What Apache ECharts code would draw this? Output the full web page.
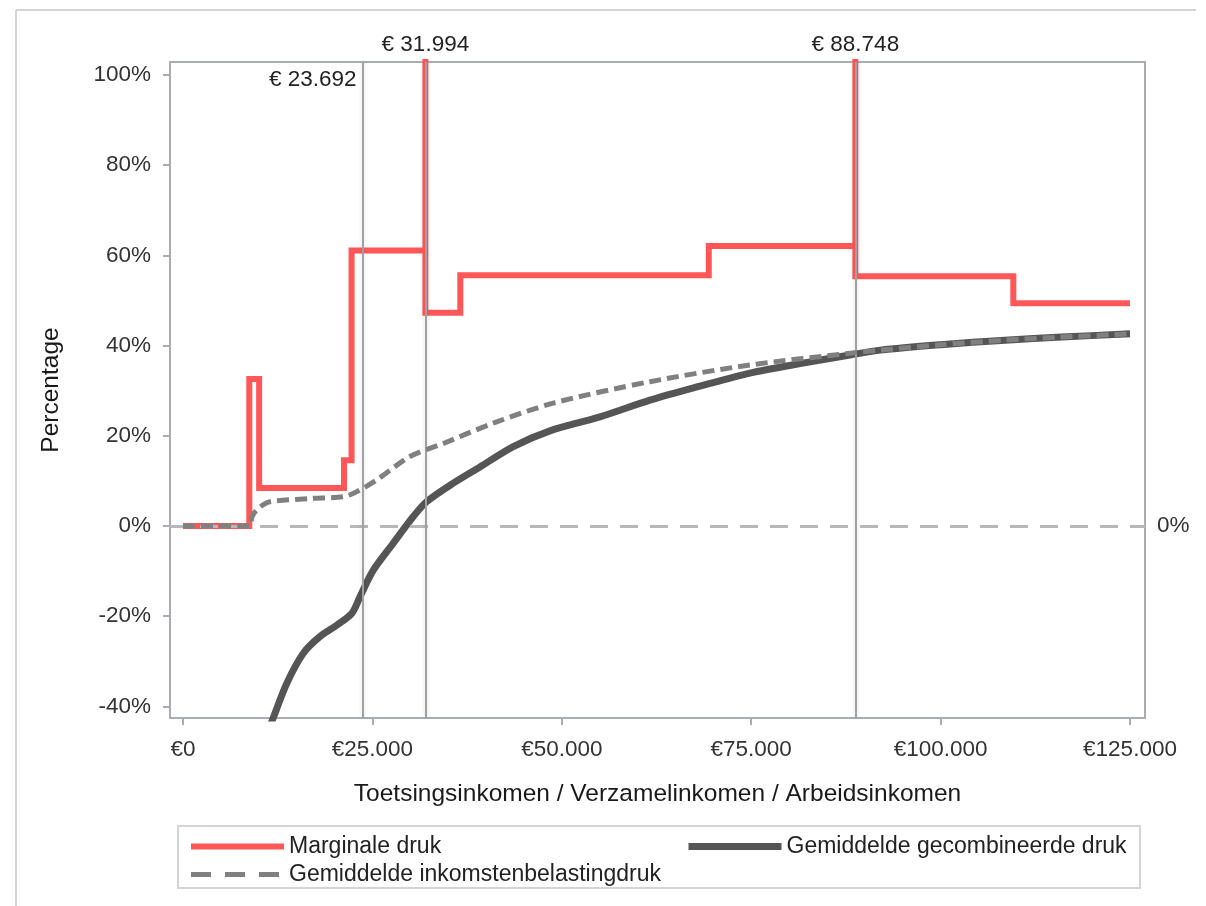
<!DOCTYPE html>
<html>
<head>
<meta charset="utf-8">
<script src="https://cdn.jsdelivr.net/npm/echarts@6/dist/echarts.min.js"></script>
<style>
html,body{margin:0;padding:0;background:#fff;}
#chart{width:1206px;height:906px;}
</style>
</head>
<body>
<div id="chart"></div>
<script>
// ---- data ----
const xTicks = [0, 25000, 50000, 75000, 100000, 125000];
const yTicks = [-40, -20, 0, 20, 40, 60, 80, 100];
const refLineValues = [23692, 31994, 88748];

// Marginale druk (step: value applies from x onward)
const marginalX = [0, 8750, 10050, 21250, 22250, 31994, 31994, 36600, 69400, 88748, 88748, 109600, 125000];
const marginalY = [0, 32.6, 8.4, 14.6, 61.1, 200, 47.3, 55.6, 62.1, 200, 55.4, 49.4, 49.4];

// Gemiddelde gecombineerde druk
const combinedX = [11000, 11920, 13690, 15880, 18080, 20290, 22270, 23360, 25120, 27760, 30400, 32170, 35680, 39200, 43600, 48440, 55040, 61640, 68240, 74840, 81440, 88040, 92050, 100000, 108500, 116000, 125000];
const combinedY = [-46.5, -42.5, -34.9, -28.2, -24.5, -22.0, -19.4, -15.7, -9.8, -3.8, 2.1, 5.4, 9.5, 13.1, 17.6, 21.1, 24.2, 27.9, 31.0, 33.9, 36.0, 37.9, 39.0, 40.2, 41.2, 41.9, 42.6];

// Gemiddelde inkomstenbelastingdruk
const incomeTaxX = [0, 8850, 9100, 9700, 10560, 11480, 16760, 21160, 22920, 25560, 29960, 34360, 40950, 49000, 61640, 74840, 88040, 92050, 100000, 108500, 116000, 125000];
const incomeTaxY = [0, 0, 2.0, 3.5, 4.7, 5.4, 6.1, 6.5, 7.6, 10.2, 15.4, 18.3, 22.8, 27.3, 32.0, 35.7, 38.3, 39.0, 40.2, 41.2, 41.9, 42.6];

const seriesNames = ['Marginale druk', 'Gemiddelde gecombineerde druk', 'Gemiddelde inkomstenbelastingdruk'];
const xAxisTitle = 'Toetsingsinkomen / Verzamelinkomen / Arbeidsinkomen';
const yAxisTitle = 'Percentage';

// ---- helpers ----
const zip = (xs, ys) => xs.map((x, i) => [x, ys[i]]);
const thousands = v => String(Math.round(v)).replace(/\B(?=(\d{3})+(?!\d))/g, '.');
const FONT = '"Liberation Sans", Arial, sans-serif';

const chart = echarts.init(document.getElementById('chart'), null, {renderer: 'canvas'});

const option = {
  animation: false,
  backgroundColor: '#ffffff',
  textStyle: {fontFamily: FONT},
  grid: {
    left: 170, right: 61, top: 62, bottom: 188,
    show: true, borderColor: '#a9adb2', borderWidth: 2, backgroundColor: 'transparent'
  },
  xAxis: {
    type: 'value',
    min: -1716, max: 126980,
    name: xAxisTitle,
    nameLocation: 'middle',
    nameGap: 64,
    nameTextStyle: {fontSize: 24.5, color: '#1a1a1a', fontFamily: FONT},
    splitLine: {show: false},
    axisLine: {show: true, onZero: false, lineStyle: {color: '#a9adb2', width: 2}},
    axisTick: {show: true, length: 7, lineStyle: {color: '#a9adb2', width: 2}, customValues: xTicks},
    axisLabel: {
      customValues: xTicks, fontSize: 22.5, color: '#333', margin: 20, fontFamily: FONT,
      formatter: v => '€' + thousands(v)
    }
  },
  yAxis: {
    type: 'value',
    min: -42.57, max: 102.88,
    name: yAxisTitle,
    nameLocation: 'middle',
    nameGap: 106,
    nameTextStyle: {fontSize: 24.5, color: '#1a1a1a', fontFamily: FONT},
    splitLine: {show: false},
    axisLine: {show: true, onZero: false, lineStyle: {color: '#a9adb2', width: 2}},
    axisTick: {show: true, length: 7, lineStyle: {color: '#a9adb2', width: 2}, customValues: yTicks},
    axisLabel: {
      customValues: yTicks, fontSize: 22.5, color: '#333', margin: 19, fontFamily: FONT,
      formatter: v => v + '%'
    }
  },
  legend: {
    data: [
      {name: seriesNames[0], textStyle: {width: 393}},
      {name: seriesNames[1]},
      {name: seriesNames[2], lineStyle: {type: [20, 14]}}
    ],
    left: 188, top: 834, width: 948,
    orient: 'horizontal',
    itemWidth: 93, itemHeight: 14, itemGap: 3,
    padding: 0,
    itemStyle: {opacity: 0},
    lineStyle: {width: 'inherit', type: 'inherit', cap: 'butt'},
    textStyle: {fontSize: 23, color: '#222', lineHeight: 25, fontFamily: FONT}
  },
  graphic: [
    {type: 'line', shape: {x1: 16, y1: 10, x2: 1196, y2: 10}, style: {stroke: '#d4d4d4', lineWidth: 2}, silent: true},
    {type: 'line', shape: {x1: 16, y1: 10, x2: 16, y2: 906}, style: {stroke: '#d4d4d4', lineWidth: 2}, silent: true},
    {type: 'rect', shape: {x: 178, y: 826, width: 962, height: 62}, style: {fill: 'none', stroke: '#d4d4d4', lineWidth: 2}, silent: true}
  ],
  series: [
    {
      name: seriesNames[0],
      type: 'line',
      step: 'end',
      data: zip(marginalX, marginalY),
      showSymbol: false, symbol: 'none',
      clip: true,
      z: 3,
      lineStyle: {color: '#ff5757', width: 6, join: 'miter', cap: 'butt'},
      itemStyle: {color: '#ff5757'}
    },
    {
      name: seriesNames[1],
      type: 'line',
      data: zip(combinedX, combinedY),
      smooth: 0.3,
      showSymbol: false, symbol: 'none',
      clip: true,
      z: 4,
      lineStyle: {color: '#555555', width: 7},
      itemStyle: {color: '#555555'}
    },
    {
      name: seriesNames[2],
      type: 'line',
      data: zip(incomeTaxX, incomeTaxY),
      smooth: 0.3,
      showSymbol: false, symbol: 'none',
      clip: true,
      z: 5,
      lineStyle: {color: '#808080', width: 5, type: [12, 6], cap: 'butt'},
      itemStyle: {color: '#808080'}
    },
    {
      name: 'refs',
      type: 'line',
      data: [],
      z: 2,
      markLine: {
        silent: true,
        symbol: ['none', 'none'],
        animation: false,
        data: [
          {
            yAxis: 0,
            lineStyle: {color: '#b8b8b8', width: 3, type: [18, 12]},
            label: {show: true, position: 'end', distance: 12, formatter: '0%', fontSize: 22.5, color: '#333', fontFamily: FONT}
          },
          ...refLineValues.map((v, i) => ({
            xAxis: v,
            lineStyle: {color: '#9ea2a6', width: 2, type: 'solid', shadowBlur: 4, shadowColor: 'rgba(0,0,0,0.15)'},
            label: i === 0
              ? {show: true, position: 'end', align: 'right', verticalAlign: 'top', distance: [0, -6], padding: [0, 6, 0, 0],
                 formatter: '€ ' + thousands(v), fontSize: 22.5, color: '#222', fontFamily: FONT}
              : {show: true, position: 'end', distance: 6,
                 formatter: '€ ' + thousands(v), fontSize: 22.5, color: '#222', fontFamily: FONT}
          }))
        ]
      }
    }
  ]
};

chart.setOption(option);
</script>
</body>
</html>
